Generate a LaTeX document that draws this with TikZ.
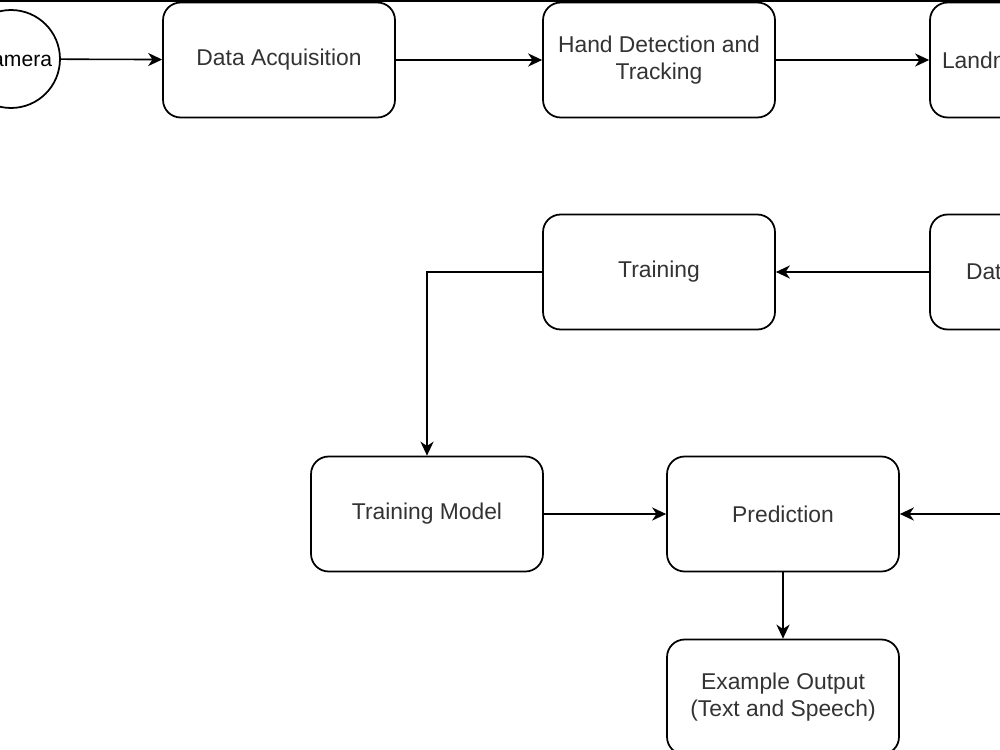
\documentclass[tikz,border=0pt]{standalone}
\usepackage{fontspec}
\setmainfont{Liberation Sans}
\usetikzlibrary{arrows.meta}

\begin{document}
\begin{tikzpicture}[x=0.02cm,y=-0.02cm,
  box/.style={draw, line width=1pt, rounded corners=10pt, minimum width=4.64cm,
    minimum height=2.3cm, align=center, text=black!80,
    font=\fontsize{13}{15.5}\selectfont},
  leftbox/.style={box, align=left, inner xsep=#1, text width=4.64cm-2*#1},
  arr/.style={-{Stealth[length=8pt,width=7.5pt,inset=2.5pt]}, line width=0.9pt}]
\useasboundingbox (0,0) rectangle (1000,750);
\clip (0,0) rectangle (1000,750);
\fill (0,0) rectangle (1000,2.5);

% top row
\node[circle, draw, line width=1pt, minimum size=1.96cm, inner sep=0pt,
  font=\fontsize{12}{14}\selectfont] (cam) at (11,59) {\hspace*{4pt}Camera};
\node[box] (acq) at (279,60) {Data Acquisition};
\node[box] (hand) at (659,60) {Hand Detection and\\Tracking};
\node[leftbox=0.24cm] (land) at (1046,60) {Landmark};

% middle row
\node[box] (train) at (659,272) {Training};
\node[leftbox=0.72cm] (data) at (1046,272) {Data};

% lower rows
\node[box] (model) at (427,514) {Training Model};
\node[box] (pred) at (783,514) {Prediction};
\node[box] (out) at (783,697) {Example Output\\(Text and Speech)};
\coordinate (feed) at (1010,514);

\draw[arr] (cam) -- (acq);
\draw[arr] (acq) -- (hand);
\draw[arr] (hand) -- (land);
\draw[arr] (data) -- (train);
\draw[arr] (train.west) -| (model.north);
\draw[arr] (model) -- (pred);
\draw[arr] (feed) -- (pred);
\draw[arr] (pred) -- (out);
\end{tikzpicture}
\end{document}
